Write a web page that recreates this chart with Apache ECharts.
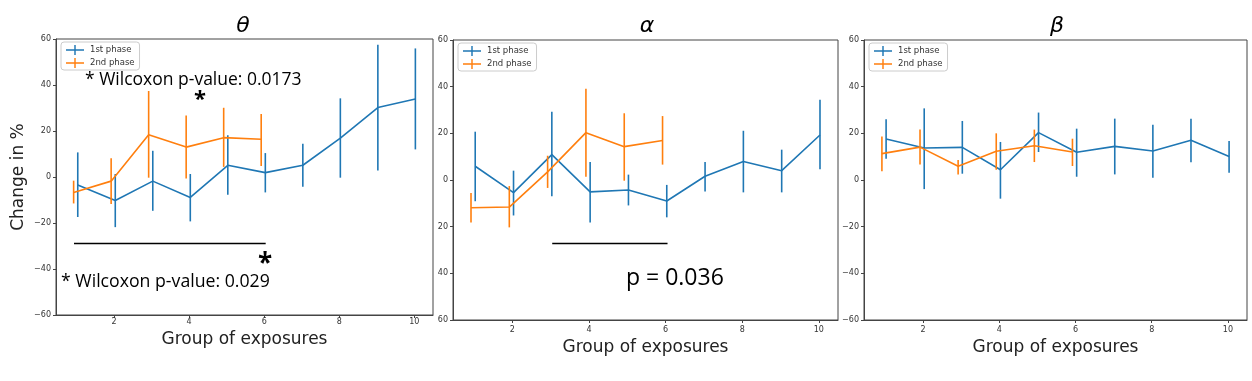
<!DOCTYPE html>
<html>
<head>
<meta charset="utf-8">
<script src="https://cdn.jsdelivr.net/npm/echarts@6/dist/echarts.min.js"></script>
<style>
html,body{margin:0;padding:0;background:#fff;}
#chart{width:1252px;height:381px;}
</style>
</head>
<body>
<div id="chart"></div>
<script>
// ---------------- data ----------------
const groups1 = [1, 2, 3, 4, 5, 6, 7, 8, 9, 10];
const groups2 = [1, 2, 3, 4, 5, 6];
const xTicks = [2, 4, 6, 8, 10];
const panelTitles = ['θ', 'α', 'β'];
const seriesNames = ['1st phase', '2nd phase'];

const theta1Mean = [-3.5, -10.2, -1.8, -8.9, 5.1, 1.9, 5.1, 16.9, 30.2, 33.9];
const theta1Low  = [-17.4, -21.8, -14.7, -19.3, -7.7, -6.7, -4.2, -0.3, 2.8, 12.0];
const theta1High = [10.7, 1.3, 11.4, 1.3, 18.1, 10.4, 14.5, 34.2, 57.5, 55.9];
const theta2Mean = [-6.7, -1.8, 18.4, 13.0, 17.1, 16.4];
const theta2Low  = [-11.5, -11.7, -0.3, -0.7, 4.4, 4.8];
const theta2High = [-1.6, 8.1, 37.4, 26.7, 30.1, 27.4];

const alpha1Mean = [5.9, -5.4, 10.9, -5.1, -4.3, -9.0, 1.6, 7.9, 4.0, 19.3];
const alpha1Low  = [-9.1, -15.2, -7.0, -18.2, -10.9, -16.0, -4.9, -5.3, -5.3, 4.6];
const alpha1High = [20.7, 4.0, 29.3, 7.7, 2.3, -2.1, 7.7, 21.1, 13.0, 34.4];
const alpha2Mean = [-11.9, -11.6, 3.5, 20.3, 14.3, 16.9];
const alpha2Low  = [-18.2, -20.3, -3.4, 1.4, -0.3, 6.6];
const alpha2High = [-5.6, -2.6, 10.4, 39.1, 28.6, 27.4];

const beta1Mean = [17.6, 13.7, 14.0, 4.4, 20.3, 11.9, 14.4, 12.4, 17.0, 10.1];
const beta1Low  = [9.1, -3.9, 2.7, -8.0, 12.0, 1.4, 2.4, 1.0, 7.6, 3.1];
const beta1High = [26.0, 30.7, 25.3, 16.3, 28.9, 22.0, 26.3, 23.7, 26.3, 16.7];
const beta2Mean = [11.3, 14.1, 5.9, 12.3, 14.7, 12.0];
const beta2Low  = [3.7, 6.6, 2.4, 4.4, 7.7, 6.0];
const beta2High = [18.6, 21.6, 8.6, 20.0, 21.6, 17.7];

// significance bars (data coordinates)
const thetaSigBar = {x: [0.93, 6.04], y: -28.8};
const alphaSigBar = {x: [3.04, 6.05], y: -27.0};

// ---------------- chart ----------------
const BLUE = '#1f77b4', ORANGE = '#ff7f0e';
const OFF1 = 0.03, OFF2 = -0.08;

const panels = [
  {m1: theta1Mean, l1: theta1Low, h1: theta1High, m2: theta2Mean, l2: theta2Low, h2: theta2High,
   grid: {left: 56, top: 39, width: 377, height: 276}, xLabelMargin: 3, xNameGap: 15, abs: false, sig: thetaSigBar},
  {m1: alpha1Mean, l1: alpha1Low, h1: alpha1High, m2: alpha2Mean, l2: alpha2Low, h2: alpha2High,
   grid: {left: 453, top: 40, width: 385, height: 280}, xLabelMargin: 6, xNameGap: 12, abs: true, sig: alphaSigBar},
  {m1: beta1Mean, l1: beta1Low, h1: beta1High, m2: beta2Mean, l2: beta2Low, h2: beta2High,
   grid: {left: 864, top: 40, width: 383, height: 280}, xLabelMargin: 6, xNameGap: 12, abs: false, sig: null}
];

const FONT = 'DejaVu Sans';
const grids = [], xAxes = [], yAxes = [], series = [], legends = [];

function errRender(params, api) {
  const x = api.value(0), lo = api.value(1), hi = api.value(2);
  const p1 = api.coord([x, lo]), p2 = api.coord([x, hi]);
  return {type: 'line', shape: {x1: p1[0], y1: p1[1], x2: p2[0], y2: p2[1]},
          style: {stroke: api.visual('color'), lineWidth: 1.6}};
}

panels.forEach((p, i) => {
  grids.push(Object.assign({show: true, borderColor: '#444', borderWidth: 1, backgroundColor: 'transparent'}, p.grid));
  xAxes.push({
    type: 'value', gridIndex: i, min: 0.45, max: 10.5,
    name: 'Group of exposures', nameLocation: 'middle', nameGap: p.xNameGap,
    nameTextStyle: {fontFamily: FONT, fontSize: 17, color: '#222'},
    axisLine: {show: true, onZero: false, lineStyle: {color: '#444', width: 1}},
    axisTick: {show: true, length: 3, lineStyle: {color: '#444'}, customValues: xTicks},
    axisLabel: {show: true, fontFamily: FONT, fontSize: 8, color: '#333', margin: p.xLabelMargin, customValues: xTicks},
    splitLine: {show: false}
  });
  yAxes.push({
    type: 'value', gridIndex: i, min: -60, max: 60, interval: 20,
    name: i === 0 ? 'Change in %' : '', nameLocation: 'middle', nameGap: 29,
    nameTextStyle: {fontFamily: FONT, fontSize: 17, color: '#222'},
    axisLine: {show: true, onZero: false, lineStyle: {color: '#444', width: 1}},
    axisTick: {show: true, length: 3, lineStyle: {color: '#444'}},
    axisLabel: {fontFamily: FONT, fontSize: 8, color: '#333', margin: 5,
                formatter: p.abs ? (v => String(Math.abs(v))) : (v => String(v).replace('-', '\u2212'))},
    splitLine: {show: false}
  });
  const line1 = {
    name: seriesNames[0], type: 'line', xAxisIndex: i, yAxisIndex: i,
    data: groups1.map((g, k) => [g + OFF1, p.m1[k]]),
    showSymbol: false, symbol: 'none', color: BLUE,
    lineStyle: {color: BLUE, width: 1.6}, animation: false, z: 3
  };
  if (p.sig) {
    line1.markLine = {
      silent: true, symbol: 'none', animation: false,
      lineStyle: {color: '#000', width: 1.3, type: 'solid'}, label: {show: false},
      data: [[{coord: [p.sig.x[0], p.sig.y]}, {coord: [p.sig.x[1], p.sig.y]}]]
    };
  }
  series.push(line1);
  series.push({
    name: 'err1_' + i, type: 'custom', xAxisIndex: i, yAxisIndex: i,
    renderItem: errRender, itemStyle: {color: BLUE}, encode: {x: 0, y: [1, 2]},
    data: groups1.map((g, k) => [g + OFF1, p.l1[k], p.h1[k]]), animation: false, z: 3
  });
  series.push({
    name: seriesNames[1], type: 'line', xAxisIndex: i, yAxisIndex: i,
    data: groups2.map((g, k) => [g + OFF2, p.m2[k]]),
    showSymbol: false, symbol: 'none', color: ORANGE,
    lineStyle: {color: ORANGE, width: 1.6}, animation: false, z: 4
  });
  series.push({
    name: 'err2_' + i, type: 'custom', xAxisIndex: i, yAxisIndex: i,
    renderItem: errRender, itemStyle: {color: ORANGE}, encode: {x: 0, y: [1, 2]},
    data: groups2.map((g, k) => [g + OFF2, p.l2[k], p.h2[k]]), animation: false, z: 4
  });
  legends.push({
    data: seriesNames, orient: 'vertical',
    left: p.grid.left + 5, top: p.grid.top + 3,
    padding: [3, 5, 2, 5], itemGap: 3, itemWidth: 18, itemHeight: 10,
    icon: 'path://M0,8.5h20v3H0zM9.2,0h1.6v20H9.2z', symbolKeepAspect: false,
    backgroundColor: 'rgba(255,255,255,0.8)', borderColor: '#ccc', borderWidth: 1, borderRadius: 3,
    textStyle: {fontFamily: FONT, fontSize: 8.5, color: '#333', padding: [0, 0, 0, 1]},
    selectedMode: false
  });
});

const graphics = [];
const titleX = [243, 647, 1057];
panelTitles.forEach((t, i) => {
  graphics.push({type: 'text', x: titleX[i], y: 26.5,
    style: {text: t, font: 'italic 22px "DejaVu Sans"', fill: '#000', textAlign: 'center', textVerticalAlign: 'middle'}});
});
graphics.push({type: 'text', x: 85, y: 80, style: {text: '* Wilcoxon p-value: 0.0173', font: '17.5px "Open Sans"', fill: '#000', textAlign: 'left', textVerticalAlign: 'middle'}});
graphics.push({type: 'text', x: 200, y: 100, style: {text: '*', font: 'bold 22px "Open Sans"', fill: '#000', textAlign: 'center', textVerticalAlign: 'middle'}});
graphics.push({type: 'text', x: 265, y: 265, style: {text: '*', font: 'bold 26px "Open Sans"', fill: '#000', textAlign: 'center', textVerticalAlign: 'middle'}});
graphics.push({type: 'text', x: 61, y: 282, style: {text: '* Wilcoxon p-value: 0.029', font: '17.7px "Open Sans"', fill: '#000', textAlign: 'left', textVerticalAlign: 'middle'}});
graphics.push({type: 'text', x: 626, y: 278, style: {text: 'p = 0.036', font: '23px "Open Sans"', fill: '#000', textAlign: 'left', textVerticalAlign: 'middle'}});

const chart = echarts.init(document.getElementById('chart'), null, {renderer: 'canvas'});
chart.setOption({
  animation: false,
  backgroundColor: '#fff',
  grid: grids, xAxis: xAxes, yAxis: yAxes, series: series, legend: legends,
  graphic: graphics
});
</script>
</body>
</html>
